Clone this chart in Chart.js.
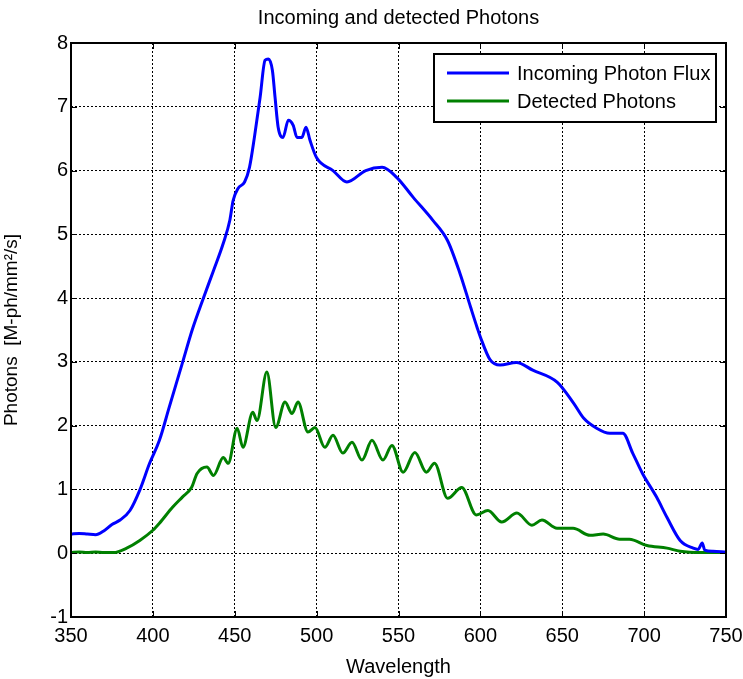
<!DOCTYPE html>
<html>
<head>
<meta charset="utf-8">
<script src="https://cdn.jsdelivr.net/npm/chart.js@4.4.0/dist/chart.umd.min.js"></script>
<style>
  html, body { margin: 0; padding: 0; background: #fff; }
  #wrap { width: 743px; height: 679px; }
</style>
</head>
<body>
<div id="wrap"><canvas id="photonChart" width="743" height="679"></canvas></div>
<script>
// valores (comprimento de onda em nm, fotões em M-ph/mm2/s)
const incomingWl = [350, 355, 360, 365, 370, 375, 380, 386, 392, 398, 404, 410, 418, 424, 431, 437, 443, 447, 449, 452, 456, 459, 462, 465.5, 468.5, 470.5, 473, 474.6, 476.5, 479.5, 482.7, 485.7, 488, 491, 493.5, 496, 500, 510, 518.5, 530, 540, 549, 559, 571, 580, 587.5, 594, 598, 600, 606, 612, 622, 632, 647, 657, 663, 671, 679, 687, 693, 699, 707.6, 714, 722, 730, 733, 735.5, 737, 742, 750];
const incomingFlux = [0.30, 0.31, 0.30, 0.29, 0.35, 0.45, 0.52, 0.67, 0.99, 1.41, 1.77, 2.29, 2.98, 3.5, 4.01, 4.43, 4.86, 5.22, 5.53, 5.72, 5.82, 6.05, 6.52, 7.15, 7.73, 7.75, 7.57, 7.15, 6.68, 6.52, 6.79, 6.71, 6.52, 6.52, 6.68, 6.47, 6.2, 6.0, 5.82, 6.0, 6.05, 5.89, 5.58, 5.22, 4.9, 4.39, 3.86, 3.54, 3.39, 3.03, 2.95, 2.99, 2.87, 2.68, 2.35, 2.12, 1.96, 1.88, 1.88, 1.57, 1.25, 0.88, 0.56, 0.2, 0.08, 0.06, 0.16, 0.05, 0.03, 0.02];

const detectedWl = [350, 355, 360, 365, 370, 376, 384, 392, 400, 404, 412, 418, 423.6, 427, 433, 437, 443, 446, 451.5, 455, 461, 463.6, 469.6, 475, 480.7, 485, 488.6, 494.7, 499, 505, 510, 516, 521.6, 527.7, 533.8, 540.5, 546, 552.8, 560, 567, 572, 580, 588.6, 597.5, 604.6, 613, 622.3, 631.5, 637.6, 646.8, 656.6, 667, 675, 685, 691, 701.7, 714, 722, 735, 750];
const detectedPhotons = [0.01, 0.02, 0.01, 0.02, 0.01, 0.01, 0.08, 0.2, 0.36, 0.47, 0.72, 0.88, 1.03, 1.25, 1.35, 1.22, 1.5, 1.41, 1.96, 1.66, 2.21, 2.08, 2.84, 1.97, 2.37, 2.19, 2.37, 1.9, 1.97, 1.66, 1.85, 1.57, 1.74, 1.46, 1.77, 1.46, 1.69, 1.27, 1.58, 1.27, 1.41, 0.86, 1.03, 0.6, 0.67, 0.49, 0.63, 0.44, 0.52, 0.39, 0.39, 0.28, 0.3, 0.22, 0.22, 0.12, 0.08, 0.03, 0.01, 0.01];

const seriesLabels = ['Incoming Photon Flux', 'Detected Photons'];
const seriesColors = ['#0000ff', '#008000'];
const chartTitle = 'Incoming and detected Photons';

const FONT = '"Liberation Sans", Arial, sans-serif';

const toPoints = (xs, ys) => xs.map((x, i) => ({ x: x, y: ys[i] }));

// caixa à volta do gráfico com marcas de escala para dentro (estilo MATLAB)
const boxPlugin = {
    id: 'matlabBox',
    afterDraw(chart) {
        const { ctx, chartArea: a, scales } = chart;
        ctx.save();
        ctx.strokeStyle = '#000';
        ctx.lineWidth = 1;
        ctx.beginPath();
        scales.x.ticks.forEach(t => {
            const px = Math.round(scales.x.getPixelForValue(t.value)) + 0.5;
            ctx.moveTo(px, a.bottom); ctx.lineTo(px, a.bottom - 6);
            ctx.moveTo(px, a.top); ctx.lineTo(px, a.top + 6);
        });
        scales.y.ticks.forEach(t => {
            const py = Math.round(scales.y.getPixelForValue(t.value)) + 0.5;
            ctx.moveTo(a.left, py); ctx.lineTo(a.left + 6, py);
            ctx.moveTo(a.right, py); ctx.lineTo(a.right - 6, py);
        });
        ctx.stroke();
        ctx.lineWidth = 2;
        ctx.strokeRect(a.left, a.top, a.right - a.left, a.bottom - a.top);

        // título centrado sobre a área do gráfico
        ctx.fillStyle = '#000';
        ctx.font = '20px ' + FONT;
        ctx.textAlign = 'center';
        ctx.textBaseline = 'middle';
        ctx.fillText(chartTitle, (a.left + a.right) / 2, 18);
        ctx.restore();
    }
};

// legenda com moldura dentro da área do gráfico
const legendBoxPlugin = {
    id: 'legendBox',
    afterDraw(chart) {
        const { ctx } = chart;
        const x0 = 434, y0 = 54, w = 282, h = 68;
        ctx.save();
        ctx.fillStyle = '#fff';
        ctx.fillRect(x0, y0, w, h);
        ctx.strokeStyle = '#000';
        ctx.lineWidth = 2;
        ctx.strokeRect(x0, y0, w, h);
        ctx.font = '20px ' + FONT;
        ctx.textBaseline = 'middle';
        chart.data.datasets.forEach((ds, i) => {
            const yy = y0 + 19 + i * 28;
            ctx.strokeStyle = ds.borderColor;
            ctx.lineWidth = 3;
            ctx.beginPath();
            ctx.moveTo(447, yy); ctx.lineTo(509, yy);
            ctx.stroke();
            ctx.fillStyle = '#000';
            ctx.fillText(ds.label, 517, yy + 1);
        });
        ctx.restore();
    }
};

const ctx = document.getElementById('photonChart').getContext('2d');
new Chart(ctx, {
    type: 'line',
    data: {
        datasets: [
            { label: seriesLabels[0], data: toPoints(incomingWl, incomingFlux), borderColor: seriesColors[0], borderWidth: 3, pointRadius: 0, cubicInterpolationMode: 'monotone', fill: false },
            { label: seriesLabels[1], data: toPoints(detectedWl, detectedPhotons), borderColor: seriesColors[1], borderWidth: 3, pointRadius: 0, cubicInterpolationMode: 'monotone', fill: false }
        ]
    },
    options: {
        responsive: false,
        animation: false,
        layout: { padding: { left: 0, right: 0, top: 43, bottom: 0 } },
        plugins: {
            legend: { display: false },
            tooltip: { enabled: false },
            title: { display: false }
        },
        scales: {
            x: {
                type: 'linear',
                min: 350, max: 750,
                afterFit: s => { s.height = 62; s.paddingRight = 17; },
                ticks: { stepSize: 50, color: '#000', font: { family: FONT, size: 20 }, padding: 7, maxRotation: 0 },
                grid: { color: '#000', lineWidth: 1, drawTicks: false },
                border: { display: false, dash: [2, 2] },
                title: { display: true, text: 'Wavelength', color: '#000', font: { family: FONT, size: 20 }, padding: { top: 0, bottom: 0 } }
            },
            y: {
                min: -1, max: 8,
                afterFit: s => { s.width = 71; },
                ticks: { stepSize: 1, color: '#000', font: { family: FONT, size: 20 }, padding: 3 },
                grid: { color: '#000', lineWidth: 1, drawTicks: false },
                border: { display: false, dash: [2, 2] },
                title: { display: true, text: 'Photons  [M-ph/mm²/s]', color: '#000', font: { family: FONT, size: 19 }, padding: { top: 0, bottom: 4 } }
            }
        }
    },
    plugins: [boxPlugin, legendBoxPlugin]
});
</script>
</body>
</html>
